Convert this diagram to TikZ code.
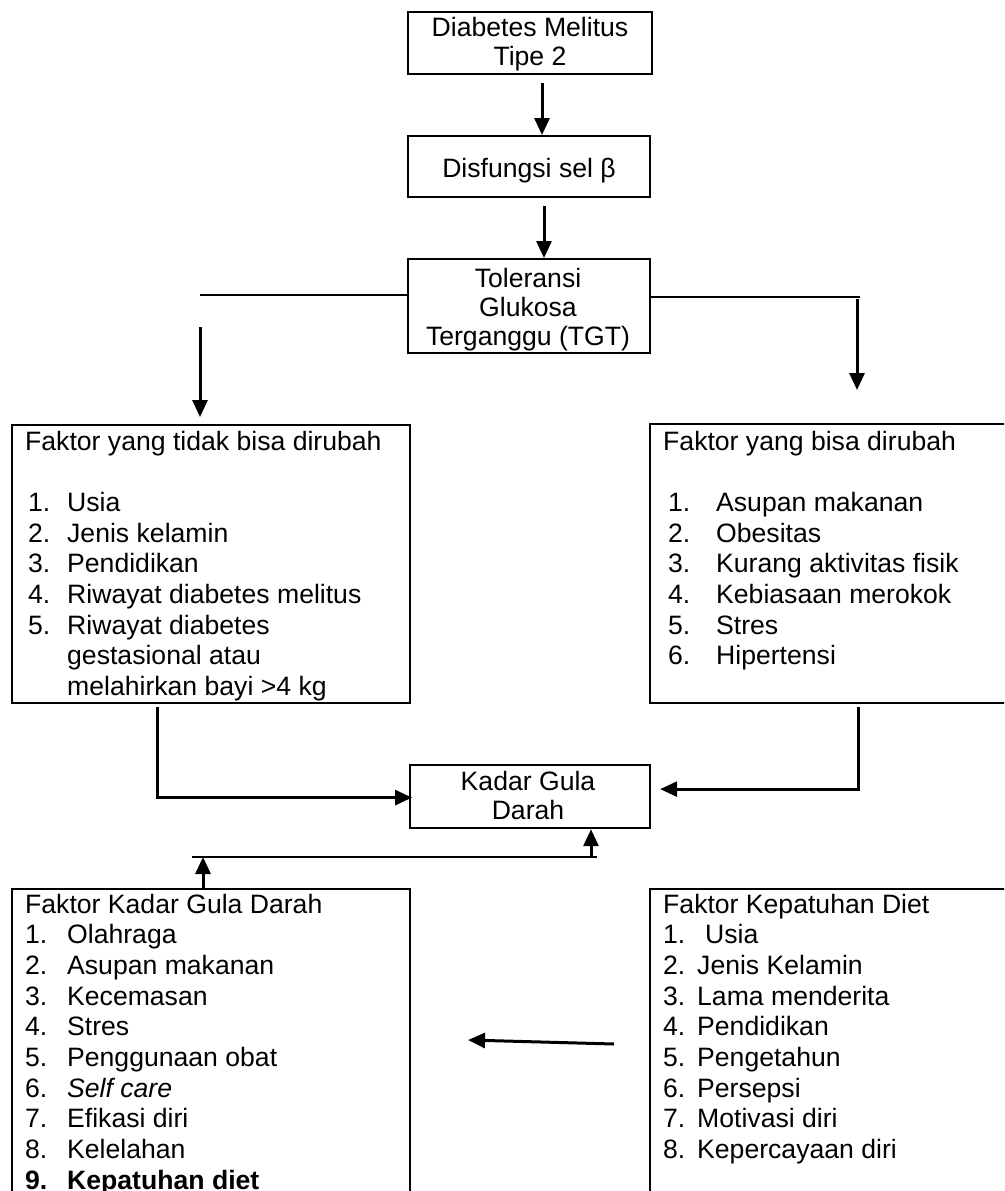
\documentclass[tikz,border=0pt]{standalone}
\usepackage{fontspec}
\setmainfont{Liberation Sans}
\usetikzlibrary{arrows.meta}
\begin{document}
\begin{tikzpicture}[x=1pt,y=-1pt,
  box/.style={draw, line width=2.2pt, inner sep=0pt, anchor=north west},
  txt/.style={inner sep=0pt, anchor=base west, font=\fontsize{26.6}{30.7}\selectfont},
  ctxt/.style={inner sep=0pt, anchor=base, font=\fontsize{26.6}{29.2}\selectfont},
  arr/.style={line width=3pt, -{Triangle[length=17pt,width=15pt]}},
  ln/.style={line width=2.5pt}]
\useasboundingbox (0,0) rectangle (1004,1191);
\clip (0,0) rectangle (1004,1191);
\fill[white] (0,0) rectangle (1004,1191);
% boxes
\node[box, minimum width=244pt, minimum height=62pt] (b1) at (407,11) {};
\node[box, minimum width=242pt, minimum height=61pt] (b2) at (407,135) {};
\node[box, minimum width=242pt, minimum height=94pt] (b3) at (407,258) {};
\node[box, minimum width=398pt, minimum height=278pt] (fl) at (11,424) {};
\node[box, minimum width=370pt, minimum height=279pt] (fr) at (649,423) {};
\node[box, minimum width=240pt, minimum height=63pt] (k) at (409,764) {};
\node[box, minimum width=398pt, minimum height=330pt] (bl) at (11,888) {};
\node[box, minimum width=370pt, minimum height=330pt] (br) at (649,888) {};
% texts
\node[ctxt] (t1) at (530,36) {\begin{tabular}[t]{@{}c@{}}Diabetes Melitus\\Tipe 2\end{tabular}};
\node[ctxt] (t2) at (529,177) {Disfungsi sel β};
\node[ctxt] (t3) at (528,287) {\begin{tabular}[t]{@{}c@{}}Toleransi\\Glukosa\\Terganggu (TGT)\end{tabular}};
\node[ctxt] (tk) at (528,790) {\begin{tabular}[t]{@{}c@{}}Kadar Gula\\Darah\end{tabular}};
\node[txt] (tl) at (25,450) {\begin{tabular}[t]{@{}l@{}}Faktor yang tidak bisa dirubah\\ \\
\hspace*{3pt}\makebox[39pt][l]{1.}Usia\\
\hspace*{3pt}\makebox[39pt][l]{2.}Jenis kelamin\\
\hspace*{3pt}\makebox[39pt][l]{3.}Pendidikan\\
\hspace*{3pt}\makebox[39pt][l]{4.}Riwayat diabetes melitus\\
\hspace*{3pt}\makebox[39pt][l]{5.}Riwayat diabetes\\
\hspace*{42pt}gestasional atau\\
\hspace*{42pt}melahirkan bayi >4 kg\end{tabular}};
\node[txt] (tr) at (663,450) {\begin{tabular}[t]{@{}l@{}}Faktor yang bisa dirubah\\ \\
\hspace*{5pt}\makebox[48pt][l]{1.}Asupan makanan\\
\hspace*{5pt}\makebox[48pt][l]{2.}Obesitas\\
\hspace*{5pt}\makebox[48pt][l]{3.}Kurang aktivitas fisik\\
\hspace*{5pt}\makebox[48pt][l]{4.}Kebiasaan merokok\\
\hspace*{5pt}\makebox[48pt][l]{5.}Stres\\
\hspace*{5pt}\makebox[48pt][l]{6.}Hipertensi\end{tabular}};
\node[txt] (tbl) at (25,913) {\begin{tabular}[t]{@{}l@{}}Faktor Kadar Gula Darah\\
\makebox[42pt][l]{1.}Olahraga\\
\makebox[42pt][l]{2.}Asupan makanan\\
\makebox[42pt][l]{3.}Kecemasan\\
\makebox[42pt][l]{4.}Stres\\
\makebox[42pt][l]{5.}Penggunaan obat\\
\makebox[42pt][l]{6.}\textit{Self care}\\
\makebox[42pt][l]{7.}Efikasi diri\\
\makebox[42pt][l]{8.}Kelelahan\\
\textbf{\makebox[42pt][l]{9.}Kepatuhan diet}\end{tabular}};
\node[txt] (tbr) at (663,913) {\begin{tabular}[t]{@{}l@{}}Faktor Kepatuhan Diet\\
\makebox[34pt][l]{1.}\hspace*{8pt}Usia\\
\makebox[34pt][l]{2.}Jenis Kelamin\\
\makebox[34pt][l]{3.}Lama menderita\\
\makebox[34pt][l]{4.}Pendidikan\\
\makebox[34pt][l]{5.}Pengetahun\\
\makebox[34pt][l]{6.}Persepsi\\
\makebox[34pt][l]{7.}Motivasi diri\\
\makebox[34pt][l]{8.}Kepercayaan diri\end{tabular}};
% connectors
\coordinate (x1) at (542,83);
\draw[arr] (x1) -- (x1 |- b2.north);
\coordinate (x2) at (544,206);
\draw[arr] (x2) -- (x2 |- b3.north);
\coordinate (lA) at (200,295);
\draw[ln] (b3.west |- lA) -- (lA);
\coordinate (lB) at (200,327);
\coordinate (lT) at (200,417);
\draw[arr] (lB) -- (lT);
\coordinate (rA) at (860,297);
\draw[ln] (b3.east |- rA) -- (rA);
\coordinate (rB) at (857,299);
\coordinate (rT) at (857,390);
\draw[arr] (rB) -- (rT);
\coordinate (lC) at (157,707);
\draw[arr] (lC) |- ([xshift=3pt,yshift=-1pt]k.west);
\coordinate (rC) at (858,707);
\draw[arr] (rC) |- ([xshift=9pt,yshift=7.5pt]k.east);
\coordinate (hL) at (192,857);
\coordinate (hR) at (597,857);
\draw[ln] (hL) -- (hR);
\coordinate (kU) at (591,857);
\draw[arr] (kU) -- (kU |- k.south);
\coordinate (uA) at (203,857);
\draw[arr] (uA |- bl.north) -- (uA);
\coordinate (dS) at (614,1044);
\coordinate (dT) at (468,1040);
\draw[arr] (dS) -- (dT);
\end{tikzpicture}
\end{document}
